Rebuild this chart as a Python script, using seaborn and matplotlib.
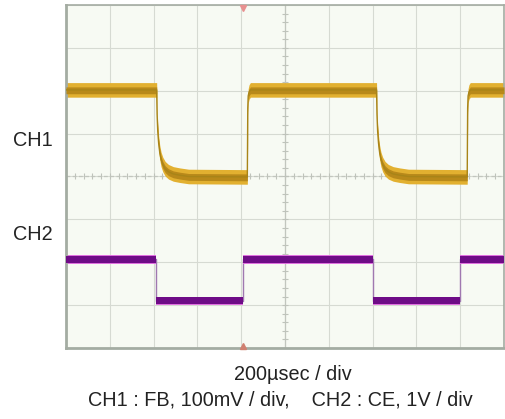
import numpy as np
import pandas as pd
import matplotlib
matplotlib.use("Agg")
import matplotlib.pyplot as plt
import seaborn as sns

# CH1 (FB) trace, time in usec, level in div (0 = centre line)
ch1_t = [0, 414, 416, 419, 423, 428, 434, 442, 453, 468, 490, 520, 560, 828, 830, 832, 836, 842,
         1418, 1420, 1423, 1427, 1432, 1438, 1446, 1457, 1472, 1494, 1524, 1564, 1832, 1834, 1836, 1840, 1846, 2000]
ch1_v = [2.02, 2.02, 1.45, 1.05, 0.78, 0.56, 0.40, 0.28, 0.18, 0.11, 0.06, 0.03, 0.0, -0.01, 1.6, 1.88, 1.97, 2.02,
         2.02, 1.45, 1.05, 0.78, 0.56, 0.40, 0.28, 0.18, 0.11, 0.06, 0.03, 0.0, -0.01, 1.6, 1.88, 1.97, 2.02, 2.02]

# CH2 (CE) trace
ch2_t = [0, 410, 410, 808, 808, 1402, 1402, 1800, 1800, 2000]
ch2_v = [-1.93, -1.93, -2.90, -2.90, -1.93, -1.93, -2.90, -2.90, -1.93, -1.93]

ch1 = pd.DataFrame({"t": ch1_t, "v": ch1_v})
ch2 = pd.DataFrame({"t": ch2_t, "v": ch2_v})

sns.set_style("white")
plt.rcParams["font.family"] = ["Liberation Sans", "DejaVu Sans"]

fig = plt.figure(figsize=(5.05, 4.19), dpi=100)
ax = fig.add_axes([66 / 505, 1 - 348 / 419, 438 / 505, 343 / 419])
ax.set_facecolor("#f7faf3")

# graticule
for i in range(11):
    ax.axvline(i * 200, color="#d6dad2", lw=0.8, zorder=0)
for j in range(-4, 5):
    ax.axhline(j, color="#d6dad2", lw=0.8, zorder=0)
ax.axvline(1000, color="#c2c6be", lw=0.9, zorder=0)
ax.axhline(0, color="#c2c6be", lw=0.9, ls=(0, (3, 2)), zorder=0)
ax.scatter(np.arange(40, 2000, 40), np.zeros(49), marker="|", s=14, color="#bfc3bb", lw=0.8, zorder=0)
ax.scatter(np.full(39, 1000), np.arange(-3.8, 4, 0.2), marker="_", s=14, color="#bfc3bb", lw=0.8, zorder=0)

# CH1: noisy band drawn as thick fill around the trace
ax.fill_between(ch1["t"], ch1["v"] - 0.17, ch1["v"] + 0.17, color="#e2b030", lw=0, zorder=2)
ax.fill_between(ch1["t"], ch1["v"] - 0.09, ch1["v"] + 0.07, color="#b8891a", lw=0, zorder=3)
sns.lineplot(data=ch1, x="t", y="v", estimator=None, sort=False, color="#a88418", lw=1.0, ax=ax, zorder=4)

# CH2
sns.lineplot(data=ch2, x="t", y="v", estimator=None, sort=False, color="#a078b0", lw=1.0, ax=ax, zorder=1)
ax.fill_between(ch2["t"], ch2["v"] - 0.1, ch2["v"] + 0.1, color="#e070e0", lw=0, zorder=2)
ax.fill_between(ch2["t"], ch2["v"] - 0.08, ch2["v"] + 0.08, color="#6e0c86", lw=0, zorder=3)

# trigger markers
ax.plot(808, 3.93, marker="v", ms=4, color="#e89090", zorder=5, clip_on=False)
ax.plot(808, -3.95, marker="^", ms=4, color="#d08070", zorder=5, clip_on=False)

ax.set_xlim(0, 2000)
ax.set_ylim(-4, 4)
ax.set_xticks([])
ax.set_yticks([])
ax.set_xlabel("")
ax.set_ylabel("")
for s in ax.spines.values():
    s.set_color("#a4aca2")
    s.set_linewidth(1.2)
ax.spines["left"].set_linewidth(2.0)
ax.spines["bottom"].set_linewidth(2.0)

fs = 14.3
fig.text(33 / 505, 1 - 141 / 419, "CH1", ha="center", va="center", fontsize=fs, color="#222222")
fig.text(33 / 505, 1 - 234 / 419, "CH2", ha="center", va="center", fontsize=fs, color="#222222")
fig.text(293 / 505, 1 - 374 / 419, "200µsec / div", ha="center", va="center", fontsize=fs, color="#222222")
fig.text(280 / 505, 1 - 400 / 419, "CH1 : FB, 100mV / div,    CH2 : CE, 1V / div",
         ha="center", va="center", fontsize=fs, color="#222222")

fig.savefig("out.png", dpi=100, facecolor="white")
